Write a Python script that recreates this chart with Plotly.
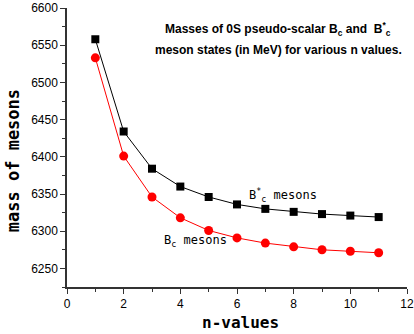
import plotly.graph_objects as go

n_values = [1, 2, 3, 4, 5, 6, 7, 8, 9, 10, 11]
bc_star = [6558, 6434, 6384, 6360, 6346, 6336, 6330, 6326, 6323, 6321, 6319]
bc = [6533, 6401, 6346, 6318, 6301, 6291, 6284, 6279, 6275, 6273, 6271]

fig = go.Figure()
fig.add_trace(go.Scatter(x=n_values, y=bc_star, mode="lines+markers",
                         line=dict(color="black", width=1),
                         marker=dict(symbol="square", size=8, color="black")))
fig.add_trace(go.Scatter(x=n_values, y=bc, mode="lines+markers",
                         line=dict(color="red", width=1),
                         marker=dict(symbol="circle", size=9, color="red")))

fig.update_layout(
    width=414, height=334,
    margin=dict(l=67, r=7, t=8, b=47),
    paper_bgcolor="white", plot_bgcolor="white",
    showlegend=False,
    font=dict(family="Liberation Sans, Arial", size=12, color="black"),
    xaxis=dict(range=[0, 12], dtick=2, tick0=0, showgrid=False, zeroline=False,
               automargin=False,
               showline=True, linecolor="#333", linewidth=1.5,
               ticks="outside", ticklen=5, tickcolor="#333", tickwidth=1,
               minor=dict(dtick=1, ticks="outside", ticklen=3, tickcolor="#333", showgrid=False),
               tickfont=dict(size=12)),
    yaxis=dict(range=[6225, 6600], dtick=50, tick0=6250, showgrid=False, zeroline=False,
               automargin=False,
               showline=True, linecolor="#333", linewidth=1.5,
               ticks="outside", ticklen=5, tickcolor="#333", tickwidth=1,
               minor=dict(dtick=25, ticks="outside", ticklen=3, tickcolor="#333", showgrid=False),
               tickfont=dict(size=12)),
)

fig.add_annotation(xref="paper", yref="paper", x=(240 - 67) / 340, y=(287 - 323) / 279.5,
                   xanchor="center", yanchor="middle",
                   showarrow=False, text="<b>n-values</b>",
                   font=dict(family="DejaVu Sans Mono", size=16))
fig.add_annotation(xref="paper", yref="paper", x=(13 - 67) / 340, y=(287 - 161) / 279.5,
                   xanchor="center", yanchor="middle",
                   showarrow=False, textangle=-90, text="<b>mass of mesons</b>",
                   font=dict(family="DejaVu Sans Mono", size=17))
fig.add_annotation(xref="x", yref="y", x=7.46, y=6572, showarrow=False,
                   text="<b>Masses of 0S pseudo-scalar B<sub>c</sub> and  B<sup>*</sup><sub>c</sub></b>",
                   font=dict(family="Liberation Sans, Arial", size=12))
fig.add_annotation(xref="x", yref="y", x=7.46, y=6544, showarrow=False,
                   text="<b>meson states (in MeV) for various n values.</b>",
                   font=dict(family="Liberation Sans, Arial", size=12))
fig.add_annotation(xref="x", yref="y", x=6.37, y=6349, xanchor="left", showarrow=False,
                   text="B<sup>*</sup><sub>c</sub> mesons",
                   font=dict(family="DejaVu Sans Mono", size=12))
fig.add_annotation(xref="x", yref="y", x=3.35, y=6287, xanchor="left", showarrow=False,
                   text="B<sub>c</sub> mesons",
                   font=dict(family="DejaVu Sans Mono", size=12))

fig.write_html("out.html", config={"displayModeBar": False},
               post_script="document.body.style.margin='0';")
